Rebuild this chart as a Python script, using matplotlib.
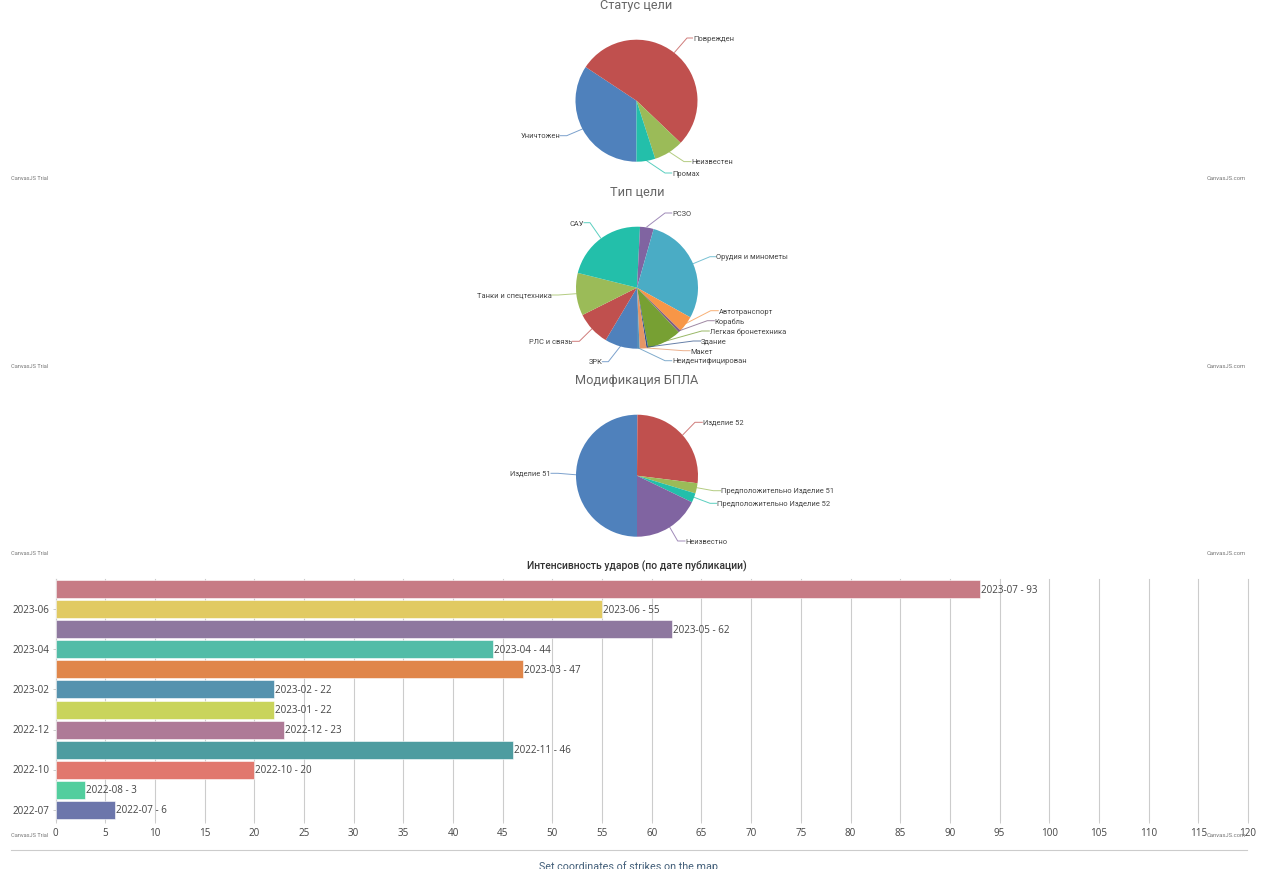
# -*- coding: utf-8 -*-
# strike statistics page: three pies and one bar chart
import numpy as np
import matplotlib
matplotlib.use("Agg")
import matplotlib.pyplot as plt
from matplotlib.lines import Line2D
from matplotlib.transforms import ScaledTranslation

W, H = 1261, 870

# pie data
status_names = ["Уничтожен", "Поврежден", "Неизвестен", "Промах"]
status_vals = [152, 234, 35, 22]

target_names = ["ЗРК", "РЛС и связь", "Танки и спецтехника", "САУ", "РСЗО",
                "Орудия и минометы", "Автотранспорт", "Корабль",
                "Легкая бронетехника", "Здание", "Макет", "Неидентифицирован"]
target_vals = [38, 40, 50, 97, 16, 127, 19, 3, 40, 2, 8, 3]

mod_names = ["Изделие 51", "Изделие 52", "Предположительно Изделие 51",
             "Предположительно Изделие 52", "Неизвестно"]
mod_vals = [222, 119, 12, 11, 79]

# bar data, bottom to top
months = ["2022-07", "2022-08", "2022-10", "2022-11", "2022-12", "2023-01",
          "2023-02", "2023-03", "2023-04", "2023-05", "2023-06", "2023-07"]
counts = [6, 3, 20, 46, 23, 22, 22, 47, 44, 62, 55, 93]

pie_colors = ["#4F81BC", "#C0504E", "#9BBB58", "#23BFAA", "#8064A1", "#4AACC5",
              "#F79647", "#7F6084", "#77A033", "#33558B", "#E59566", "#558FBB"]
bar_colors = ["#6C76AB", "#52CE9E", "#E1786E", "#4E9CA0", "#AE7A97", "#C9D45C",
              "#5592AE", "#E0864A", "#52BCA7", "#8E789F", "#E1CA62", "#C77B85"]

plt.rcParams['font.family'] = ['Roboto', 'DejaVu Sans']

fig = plt.figure(figsize=(W / 100, H / 100), dpi=100, facecolor="white")


def fx(x):
    return x / W


def fy(y):
    return 1 - y / H


def px_text(x, y, s, size, color="#444444", ha="left", **kw):
    fig.text(fx(x), fy(y), s, fontsize=size * 0.72, color=color, ha=ha, va="center", **kw)


def draw_pie(cx, cy, r, title, title_y, names, vals, guides):
    ax = fig.add_axes([fx(cx - r), fy(cy + 0.7 + r), 2 * r / W, 2 * r / H])
    ax.pie(vals, colors=pie_colors[:len(vals)], startangle=270, counterclock=False,
           radius=1, wedgeprops={"edgecolor": "none", "linewidth": 0})
    ax.set_xlim(-1, 1)
    ax.set_ylim(-1, 1)
    px_text(cx, title_y, title, 12.8, color="#666666", ha="center")

    # clock angle of every slice middle, for the leader lines
    edges = 180 + np.cumsum([0] + list(vals)) / sum(vals) * 360
    for i, name in enumerate(names):
        a = np.radians((edges[i] + edges[i + 1]) / 2)
        sx = cx + r * np.sin(a)
        sy = cy - r * np.cos(a)
        kx, ex, ey = guides[i]
        fig.add_artist(Line2D([fx(sx), fx(kx), fx(ex)], [fy(sy), fy(ey), fy(ey)],
                              color=pie_colors[i], lw=0.7, alpha=0.75,
                              transform=fig.transFigure))
        if ex > kx:
            px_text(ex + 0.5, ey + 0.3, name, 7.5, color="#444444")
        else:
            px_text(ex, ey + 0.3, name, 7.5, color="#444444", ha="right")


draw_pie(636.5, 101, 61, "Статус цели", 6, status_names, status_vals,
         [(566.7, 560, 136.7), (687, 692.5, 39), (684, 691, 162.6), (665, 671.7, 174)])
draw_pie(637, 288, 61, "Тип цели", 193, target_names, target_vals,
         [(608.3, 602.3, 362.7), (579.3, 572.3, 342.3), (558.3, 551.7, 296),
          (590, 584, 223.7), (665, 671.7, 214), (710, 716, 257.7),
          (710.7, 718.3, 311.7), (707.3, 714.3, 321.7), (701.7, 709.3, 332),
          (693.3, 700.7, 342), (683.3, 690, 351.7), (665, 671.7, 361.7)])
draw_pie(637, 476, 61, "Модификация БПЛА", 381, mod_names, mod_vals,
         [(558, 551, 474.3), (695, 702.3, 423.3), (713.3, 720.7, 491.7),
          (710, 716.7, 504.3), (677.7, 685, 542)])

# bar chart, axis box in pixels
left, right, top, bottom = 55.5, 1248, 580, 821
ax = fig.add_axes([fx(left), fy(bottom), (right - left) / W, (bottom - top) / H])
y = np.arange(len(months))
ax.barh(y, counts, height=0.9, color=bar_colors, edgecolor="white", linewidth=0.4, zorder=3)
ax.set_xlim(0, 120)
ax.set_ylim(-0.5, len(months) - 0.5)
ax.set_xticks(np.arange(0, 121, 5))
ax.set_yticks([0, 2, 4, 6, 8, 10])
ax.set_yticklabels([months[0], months[2], months[4], months[6], months[8], months[10]])
ax.xaxis.grid(True, color="#cccccc", lw=0.8, zorder=0, clip_on=False)
ax.set_axisbelow(True)
ax.tick_params(axis="x", length=2.5, width=0.7, color="#cccccc", labelsize=7.1,
               labelcolor="#444444", pad=2.3)
ax.tick_params(axis="y", length=2.5, width=0.7, color="#cccccc", labelsize=7.1,
               labelcolor="#444444", pad=1.8)
for lab in ax.get_xticklabels() + ax.get_yticklabels():
    lab.set_fontfamily("Open Sans")
# y labels sit a little above the bar centres
up = ScaledTranslation(0, 1.3 / 100, fig.dpi_scale_trans)
for lab in ax.get_yticklabels():
    lab.set_transform(lab.get_transform() + up)
for s in ["top", "right", "bottom"]:
    ax.spines[s].set_visible(False)
ax.spines["left"].set_color("#cccccc")
for i, v in enumerate(counts):
    ax.text(v + 0.1, i, "%s - %d" % (months[i], v), fontsize=7.1, color="#444444",
            family="Open Sans", va="center", ha="left", zorder=4)

px_text(636.5, 566, "Интенсивность ударов (по дате публикации)", 10.4, color="#333333",
        ha="center", fontweight="medium")

# watermarks under every chart
for wy in [179, 367, 554, 836]:
    px_text(11, wy, "CanvasJS Trial", 5.7, color="#777777")
for wy in [179, 367, 554, 836]:
    px_text(1246, wy, "CanvasJS.com", 5.9, color="#777777", ha="right")

# footer of the page
fig.add_artist(Line2D([fx(11), fx(1247)], [fy(851), fy(851)], color="#cccccc", lw=0.8,
                      transform=fig.transFigure))
px_text(628.5, 867, "Set coordinates of strikes on the map", 10.8, color="#44607a", ha="center")

fig.savefig("out.png", dpi=100)
